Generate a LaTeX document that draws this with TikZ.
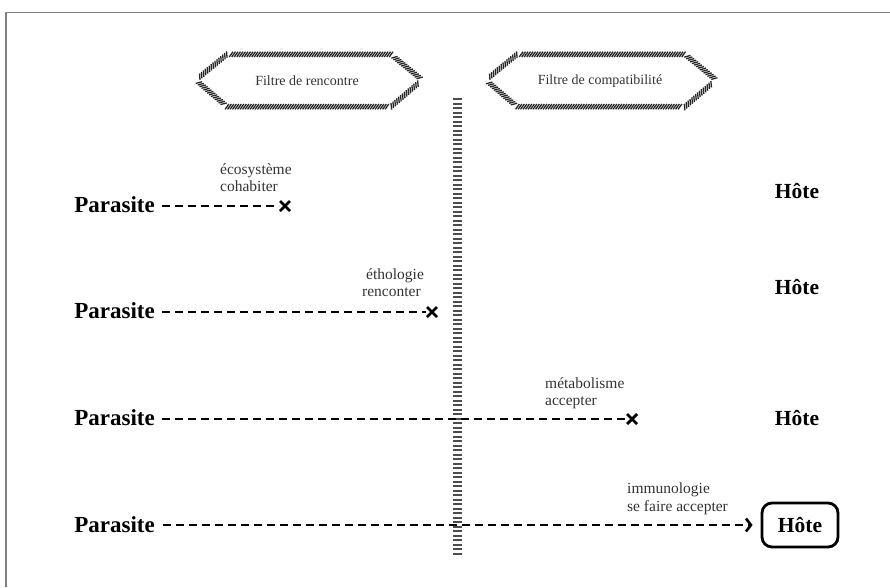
\documentclass[tikz,border=0pt]{standalone}
\usepackage{fontspec}
\setmainfont{Liberation Serif}
\usetikzlibrary{arrows.meta,decorations.pathreplacing,decorations.pathmorphing}
\begin{document}
\begin{tikzpicture}[x=1pt,y=-1pt,
  parasite/.style={font=\bfseries\fontsize{23}{26}\selectfont, inner sep=0pt},
  hote/.style={font=\bfseries\fontsize{21.5}{24}\selectfont, inner sep=0pt},
  lbl/.style={font=\fontsize{15.5}{17}\selectfont, inner sep=0pt, anchor=base west, text=black!80},
  flt/.style={font=\fontsize{14}{16}\selectfont, inner sep=0pt, text=black!80},
  link/.style={line width=2.8pt, dash pattern=on 8pt off 5pt, black},
  crossmark/.style={line width=2.8pt, black},
  hatch/.style={black!85, line width=1.3pt, decorate, decoration={border, segment length=2.5pt, amplitude=6.5pt, angle=55}},
  ladder/.style={black!70, line width=9pt, dash pattern=on 2.2pt off 2.3pt}
]
\useasboundingbox (0,0) rectangle (890,587);
% frame
\draw[black!50, line width=1.5pt] (6,587) -- (6,12.5) -- (890,12.5);

% filters
\draw[hatch] (200,80) -- (228,57) -- (390,57) -- (418,80) -- (390,104) -- (228,104) -- cycle;
\node[flt] (f1) at (307,81) {Filtre de rencontre};
\draw[hatch] (490,80) -- (518,57) -- (684,57) -- (712,80) -- (684,104) -- (518,104) -- cycle;
\node[flt] (f2) at (600,81) {Filtre de compatibilité};

% vertical barrier
\draw[ladder] (457,98) coordinate (b1) -- (457,556) coordinate (b2);

% row 1
\node[parasite, anchor=east] (p1) at (155,205) {Parasite};
\coordinate (x1) at (285,206);
\draw[link] (p1.east) ++(8,0) coordinate (s1) -- (x1 -| s1) -- ([xshift=-6pt]x1);
\draw[crossmark] ([shift={(-5,-5)}]x1) -- ([shift={(5,5)}]x1) ([shift={(-5,5)}]x1) -- ([shift={(5,-5)}]x1);
\node[lbl] (l1a) at (220,174) {écosystème};
\node[lbl] (l1b) at (220,191) {cohabiter};
\node[hote] (h1) at (797,191) {Hôte};

% row 2
\node[parasite, anchor=east] (p2) at (155,311) {Parasite};
\coordinate (x2) at (432,312);
\draw[link] (p2.east) ++(8,0) coordinate (s2) -- (x2 -| s2) -- ([xshift=-6pt]x2);
\draw[crossmark] ([shift={(-5,-5)}]x2) -- ([shift={(5,5)}]x2) ([shift={(-5,5)}]x2) -- ([shift={(5,-5)}]x2);
\node[lbl] (l2a) at (366,279) {éthologie};
\node[lbl] (l2b) at (362,296) {renconter};
\node[hote] (h2) at (797,287) {Hôte};

% row 3
\node[parasite, anchor=east] (p3) at (155,418) {Parasite};
\coordinate (x3) at (632,419);
\draw[link] (p3.east) ++(8,0) coordinate (s3) -- (x3 -| s3) -- ([xshift=-6pt]x3);
\draw[crossmark] ([shift={(-5,-5)}]x3) -- ([shift={(5,5)}]x3) ([shift={(-5,5)}]x3) -- ([shift={(5,-5)}]x3);
\node[lbl] (l3a) at (545,388) {métabolisme};
\node[lbl] (l3b) at (545,405) {accepter};
\node[hote] (h3) at (797,418) {Hôte};

% row 4
\node[parasite, anchor=east] (p4) at (155,525) {Parasite};
\node[hote, draw, line width=2.8pt, rounded corners=10pt, minimum width=76pt, minimum height=44pt] (h4) at (800,525) {Hôte};
\draw[link, -{Straight Barb[length=5pt,width=13pt,line width=2.6pt]}] (p4.east) ++(8,0) -- ([xshift=-8pt]h4.west);
\node[lbl] (l4a) at (627,493) {immunologie};
\node[lbl] (l4b) at (627,511) {se faire accepter};
\end{tikzpicture}
\end{document}
